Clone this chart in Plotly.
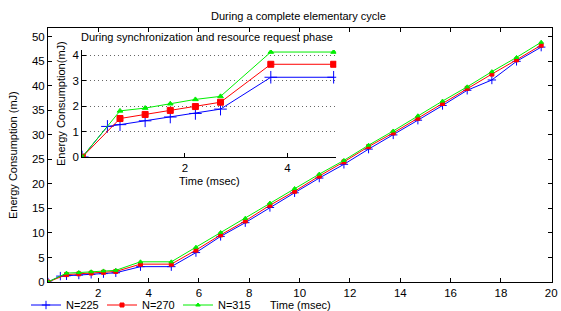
import plotly.graph_objects as go

# ---------------- data ----------------
labels = ["N=225", "N=270", "N=315"]
colors = ["#0000ff", "#ff0000", "#00ee00"]

# inset: synchronization and resource request phase
t_sync_blue = [0, 0.49, 0.735, 1.225, 1.715, 2.205, 2.695, 3.675, 4.9]
e_sync_blue = [0, 1.20, 1.27, 1.42, 1.57, 1.71, 1.88, 3.13, 3.13]
t_sync = [0, 0.735, 1.225, 1.715, 2.205, 2.695, 3.675, 4.9]
e_sync_red = [0, 1.51, 1.67, 1.83, 1.98, 2.15, 3.64, 3.64]
e_sync_green = [0, 1.81, 1.92, 2.09, 2.26, 2.38, 4.12, 4.12]

# main: complete elementary cycle (after sync phase)
t_cycle = [5.88, 6.86, 7.84, 8.82, 9.80, 10.78, 11.76, 12.74, 13.72,
           14.70, 15.68, 16.66, 17.64, 18.62, 19.60]
e_cycle_blue = [6.0, 9.3, 12.1, 15.2, 18.2, 21.2, 24.0, 27.1, 30.0,
                33.0, 36.0, 39.1, 41.2, 45.0, 47.9]
e_cycle_red = [6.5, 9.6, 12.45, 15.65, 18.5, 21.6, 24.5, 27.6, 30.4,
               33.4, 36.4, 39.5, 42.4, 45.3, 48.3]
e_cycle_green = [7.1, 10.1, 13.0, 16.1, 19.06, 22.0, 24.8, 27.9, 30.8,
                 33.9, 36.9, 39.8, 42.9, 45.8, 48.9]

main_xticks = [2, 4, 6, 8, 10, 12, 14, 16, 18, 20]
main_yticks = [0, 5, 10, 15, 20, 25, 30, 35, 40, 45, 50]
inset_xticks = [2, 4]
inset_yticks = [0, 1, 2, 3, 4]

# ---------------- layout helpers ----------------
W, H = 561, 311
L, R, T, B = 48, 9, 28, 29
PW, PH = W - L - R, H - T - B


def px(x):
    return (x - L) / PW


def py(y):
    return (H - B - y) / PH


FONT = "Liberation Sans, Arial, Helvetica, sans-serif"

main_t = [
    (t_sync_blue + t_cycle, e_sync_blue + e_cycle_blue),
    (t_sync + t_cycle, e_sync_red + e_cycle_red),
    (t_sync + t_cycle, e_sync_green + e_cycle_green),
]
inset_t = [
    (t_sync_blue, e_sync_blue),
    (t_sync, e_sync_red),
    (t_sync, e_sync_green),
]
symbols = ["cross-thin-open", "square", "triangle-up"]
main_sizes = [6, 4, 4]
inset_sizes = [9, 6, 5]

fig = go.Figure()
for i in range(3):
    x, y = main_t[i]
    fig.add_trace(go.Scatter(
        x=x, y=y, mode="lines+markers", name=labels[i],
        line=dict(color=colors[i], width=1),
        marker=dict(symbol=symbols[i], size=main_sizes[i], color=colors[i],
                    line=dict(color=colors[i], width=1)),
        xaxis="x", yaxis="y", showlegend=True,
    ))
for i in range(3):
    x, y = inset_t[i]
    fig.add_trace(go.Scatter(
        x=x, y=y, mode="lines+markers", name=labels[i],
        line=dict(color=colors[i], width=1),
        marker=dict(symbol=symbols[i], size=inset_sizes[i], color=colors[i],
                    line=dict(color=colors[i], width=1)),
        xaxis="x2", yaxis="y2", showlegend=False,
    ))

ins_x0, ins_x1 = 82.3, 336.2
ins_y0, ins_y1 = 157.0, 50.0

fig.update_layout(
    width=W, height=H,
    margin=dict(l=L, r=R, t=T, b=B, pad=0, autoexpand=False),
    paper_bgcolor="white", plot_bgcolor="white",
    font=dict(family=FONT, size=11, color="black"),
    showlegend=True,
    legend=dict(orientation="h", x=px(26), y=py(305), xanchor="left",
                yanchor="middle", font=dict(size=11), bgcolor="rgba(0,0,0,0)",
                borderwidth=0, entrywidth=31, entrywidthmode="pixels",
                tracegroupgap=0, itemwidth=30),
    xaxis=dict(range=[0, 20.03], domain=[0, 1], tickvals=main_xticks,
               ticks="inside", ticklen=4, tickcolor="black",
               ticklabeloverflow="allow",
               showline=True, linecolor="black", linewidth=1, mirror="ticks",
               showgrid=False, zeroline=False, tickfont=dict(size=11.5)),
    yaxis=dict(range=[0, 51.8], domain=[0, 1], tickvals=main_yticks,
               ticks="inside", ticklen=4, tickcolor="black",
               showline=True, linecolor="black", linewidth=1, mirror="ticks",
               showgrid=False, zeroline=False, tickfont=dict(size=11.5)),
    xaxis2=dict(range=[0, 4.95], domain=[px(ins_x0), px(ins_x1)],
                anchor="y2", tickvals=inset_xticks,
                ticks="inside", ticklen=4, tickcolor="black",
                showline=True, linecolor="black", linewidth=1, mirror=False,
                showgrid=False, zeroline=False, tickfont=dict(size=11.5)),
    yaxis2=dict(range=[0, 4.2], domain=[py(ins_y0), py(ins_y1)],
                anchor="x2", tickvals=inset_yticks,
                ticks="inside", ticklen=4, tickcolor="black",
                showline=True, linecolor="black", linewidth=1, mirror=False,
                showgrid=True, gridcolor="#666", griddash="1px,3px", gridwidth=1,
                zeroline=False, tickfont=dict(size=11.5)),
)

ann = [
    dict(text="During a complete elementary cycle", x=px(298), y=py(16)),
    dict(text="During synchronization and resource request phase",
         x=px(207), y=py(37)),
    dict(text="Time (msec)", x=px(209), y=py(181)),
    dict(text="Time (msec)", x=px(300), y=py(305)),
    dict(text="Energy Consumption (mJ)", x=px(13), y=py(155), textangle=-90),
    dict(text="Energy Consumption(mJ)", x=px(61), y=py(104), textangle=-90),
]
for a in ann:
    fig.add_annotation(xref="paper", yref="paper", showarrow=False,
                       xanchor="center", yanchor="middle",
                       font=dict(size=11, family=FONT), **a)

fig.write_html(
    "out.html",
    config={"displayModeBar": False},
    post_script="document.body.style.margin='0';"
                "document.body.style.overflow='hidden';",
)
